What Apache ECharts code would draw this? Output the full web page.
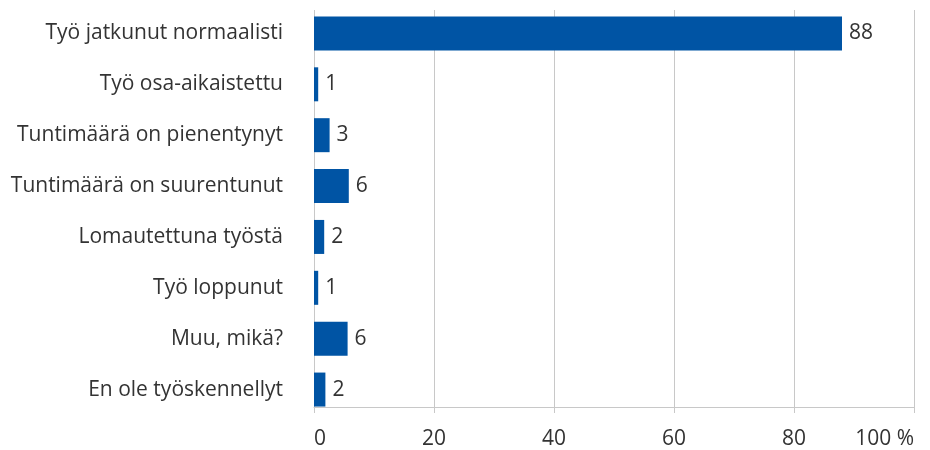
<!DOCTYPE html>
<html>
<head>
<meta charset="utf-8">
<script src="https://cdn.jsdelivr.net/npm/echarts@6/dist/echarts.min.js"></script>
<style>
  html, body { margin: 0; padding: 0; background: #fff; }
  #chart { width: 930px; height: 450px; }
</style>
</head>
<body>
<div id="chart"></div>
<script>
var categories = ['Työ jatkunut normaalisti', 'Työ osa-aikaistettu', 'Tuntimäärä on pienentynyt',
  'Tuntimäärä on suurentunut', 'Lomautettuna työstä', 'Työ loppunut', 'Muu, mikä?', 'En ole työskennellyt']
var values = [88, 0.7, 2.6, 5.8, 1.7, 0.7, 5.6, 1.9]
var xTicks = [0, 20, 40, 60, 80, 100]

var font = 'Open Sans'
var textColor = '#333333'
var gridColor = '#c8c8c8'

var myChart = echarts.init(document.getElementById('chart'))
var option = {
  animation: false,
  grid: [
    // bars
    { left: 314, right: 16, top: 8, bottom: 35 },
    // axis lines, ticks, labels
    { left: 314, right: 16, top: 10, bottom: 43 }
  ],
  xAxis: [
    {
      gridIndex: 0,
      type: 'value',
      min: 0,
      max: 100,
      interval: 20,
      show: false
    },
    {
      gridIndex: 1,
      type: 'value',
      min: xTicks[0],
      max: xTicks[xTicks.length - 1],
      interval: 20,
      axisLine: { show: true, lineStyle: { color: gridColor, width: 1 } },
      axisTick: { show: true, length: 6, lineStyle: { color: gridColor } },
      splitLine: { show: true, lineStyle: { color: gridColor, width: 1 } },
      axisLabel: {
        margin: 22,
        fontFamily: font,
        fontSize: 21,
        color: textColor,
        alignMinLabel: 'left',
        alignMaxLabel: 'right',
        formatter: function(v) {
          return v === 100 ? '100 %' : String(v)
        }
      }
    }
  ],
  yAxis: [
    {
      gridIndex: 0,
      type: 'category',
      inverse: true,
      data: categories,
      axisLine: { show: false },
      axisTick: { show: false },
      axisLabel: {
        margin: 31,
        fontFamily: font,
        fontSize: 21,
        color: textColor
      }
    },
    {
      gridIndex: 1,
      type: 'value',
      show: false
    }
  ],
  series: [
    {
      type: 'bar',
      xAxisIndex: 0,
      yAxisIndex: 0,
      data: values,
      barWidth: 34,
      itemStyle: { color: '#0054a4' },
      label: {
        show: true,
        position: 'right',
        distance: 7,
        fontFamily: font,
        fontSize: 21,
        color: textColor,
        formatter: function(p) {
          return Math.round(p.value)
        }
      }
    }
  ]
}
myChart.setOption(option)
</script>
</body>
</html>
